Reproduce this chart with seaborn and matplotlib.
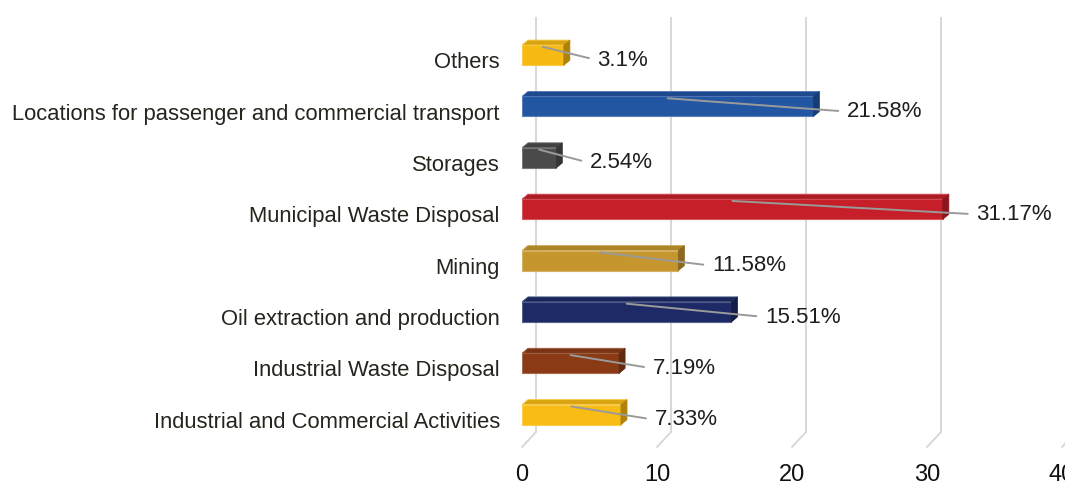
import numpy as np
import pandas as pd
import matplotlib
matplotlib.use("Agg")
import matplotlib.pyplot as plt
from matplotlib.patches import Polygon
from matplotlib.colors import to_rgb
import seaborn as sns

categories = [
    "Others",
    "Locations for passenger and commercial transport",
    "Storages",
    "Municipal Waste Disposal",
    "Mining",
    "Oil extraction and production",
    "Industrial Waste Disposal",
    "Industrial and Commercial Activities",
]
shares = [3.1, 21.58, 2.54, 31.17, 11.58, 15.51, 7.19, 7.33]
bar_colors = ["#F6BA12", "#2255A2", "#4A4A4A", "#C61F2A",
              "#C6962E", "#1D2A66", "#8A3A14", "#F8BC14"]
x_ticks = [0, 10, 20, 30, 40]

sns.set_theme(style="white")
plt.rcParams["font.family"] = ["Liberation Sans", "DejaVu Sans"]

df = pd.DataFrame({"category": categories, "share": shares})

W, H, DPI = 1065, 487, 100
fig = plt.figure(figsize=(W / DPI, H / DPI), dpi=DPI)
# axes in pixel terms: x from 522 to 1062, y from 32 to 447 (top-down)
left, right, top, bottom = 522, 1062, 32, 447
ax = fig.add_axes([left / W, 1 - bottom / H, (right - left) / W, (bottom - top) / H])

bar_h = 0.39
sns.barplot(data=df, x="share", y="category", hue="category", palette=bar_colors,
            orient="h", width=bar_h, legend=False, ax=ax, zorder=3,
            linewidth=0, saturation=1)

ax.set_xlim(0, 40)
ax.set_ylim(7.63, -0.45)

px_per_x = (right - left) / 40.0
px_per_y = (bottom - top) / (7.63 + 0.45)

# depth of the bars (pixels) in data units
dx = 6 / px_per_x
dy = 5 / px_per_y


def shade(c, f):
    r, g, b = to_rgb(c)
    if f >= 0:
        return (r + (1 - r) * f, g + (1 - g) * f, b + (1 - b) * f)
    return (r * (1 + f), g * (1 + f), b * (1 + f))


for patch, col in zip(ax.patches, bar_colors):
    x0 = patch.get_x()
    x1 = x0 + patch.get_width()
    yt = patch.get_y()
    yb = yt + patch.get_height()
    y_top = min(yt, yb)
    y_bot = max(yt, yb)
    patch.set_edgecolor(shade(col, 0.25))
    patch.set_linewidth(0.8)
    top_face = Polygon([(x0, y_top), (x1, y_top), (x1 + dx, y_top - dy), (x0 + dx, y_top - dy)],
                       closed=True, facecolor=shade(col, -0.12), edgecolor=shade(col, 0.2),
                       linewidth=0.6, zorder=3)
    side_face = Polygon([(x1, y_top), (x1 + dx, y_top - dy), (x1 + dx, y_bot - dy), (x1, y_bot)],
                        closed=True, facecolor=shade(col, -0.3), edgecolor=shade(col, -0.3),
                        linewidth=0.6, zorder=3)
    ax.add_patch(top_face)
    ax.add_patch(side_face)

# back wall gridlines with a slanted floor edge
grid_col = "#DDD6D6"
gx = 14 / px_per_x
gy = 15 / (bottom - top)
tr = ax.get_xaxis_transform()
for t in x_ticks:
    ax.plot([t + gx, t + gx], [gy, 1 + 15 / (bottom - top)], color=grid_col, lw=1.4,
            transform=tr, zorder=1, clip_on=False, solid_capstyle="butt")
    ax.plot([t + gx, t], [gy, 0], color=grid_col, lw=1.4,
            transform=tr, zorder=1, clip_on=False)

# value labels with leader lines
for i, v in enumerate(shares):
    ax.annotate(f"{v:g}%", xy=(v / 2, i - 0.16), xytext=(v + 2.5, i + 0.1),
                textcoords="data", ha="left", va="center", fontsize=16, color="#1E1E1E",
                annotation_clip=False, zorder=5,
                arrowprops=dict(arrowstyle="-", color="#9A9A9A", lw=1.4,
                                relpos=(0, 0.5), shrinkA=4, shrinkB=0))

ax.set_yticks(np.arange(len(categories)) + 0.1)
ax.set_yticklabels(categories, fontsize=15.8, color="#22261C")
ax.set_xticks(x_ticks)
ax.set_xticklabels([str(t) for t in x_ticks], fontsize=17, color="#111111")
ax.tick_params(axis="y", length=0, pad=16)
ax.tick_params(axis="x", length=0, pad=12)
ax.set_xlabel("")
ax.set_ylabel("")
for s in ax.spines.values():
    s.set_visible(False)

fig.savefig("out.png", dpi=DPI, facecolor="white")
